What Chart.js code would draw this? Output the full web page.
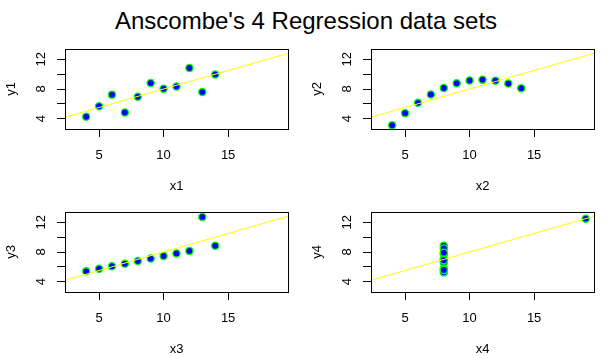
<!DOCTYPE html>
<html>
<head>
<meta charset="utf-8">
<script src="https://cdn.jsdelivr.net/npm/chart.js@4.4.1/dist/chart.umd.min.js"></script>
<style>
  body { margin: 0; background: #fff; width: 612px; height: 358px; overflow: hidden; position: relative;
         font-family: "Liberation Sans", Arial, sans-serif; }
  #title { position: absolute; left: 0; top: 7px; width: 612px; text-align: center;
           font-size: 24px; line-height: 28px; color: #000; }
  canvas { position: absolute; }
</style>
</head>
<body>
<div id="title">Anscombe's 4 Regression data sets</div>
<canvas id="c1" width="306" height="170" style="left:0;top:30px"></canvas>
<canvas id="c2" width="306" height="170" style="left:306px;top:30px"></canvas>
<canvas id="c3" width="306" height="170" style="left:0;top:193px"></canvas>
<canvas id="c4" width="306" height="170" style="left:306px;top:193px"></canvas>
<script>
// Anscombe's quartet
const x1 = [10, 8, 13, 9, 11, 14, 6, 4, 12, 7, 5];
const y1 = [8.04, 6.95, 7.58, 8.81, 8.33, 9.96, 7.24, 4.26, 10.84, 4.82, 5.68];
const x2 = [10, 8, 13, 9, 11, 14, 6, 4, 12, 7, 5];
const y2 = [9.14, 8.14, 8.74, 8.77, 9.26, 8.10, 6.13, 3.10, 9.13, 7.26, 4.74];
const x3 = [10, 8, 13, 9, 11, 14, 6, 4, 12, 7, 5];
const y3 = [7.46, 6.77, 12.74, 7.11, 7.81, 8.84, 6.08, 5.39, 8.15, 6.42, 5.73];
const x4 = [8, 8, 8, 8, 8, 8, 8, 19, 8, 8, 8];
const y4 = [6.58, 5.76, 7.71, 8.84, 8.47, 7.04, 5.25, 12.50, 5.56, 7.91, 6.89];

const xLim = [3, 19];
const yLim = [3, 13];
const xTicks = [5, 10, 15];
const yTicks = [4, 6, 8, 10, 12];
const yTickLabels = [4, 8, 12];

const FONT = { family: '"Liberation Sans", Arial, sans-serif', size: 13 };

// R style 4% axis extension
function ext(lim) {
  const d = (lim[1] - lim[0]) * 0.04;
  return [lim[0] - d, lim[1] + d];
}

// least squares fit
function fit(xs, ys) {
  const n = xs.length;
  const mx = xs.reduce((a, b) => a + b, 0) / n;
  const my = ys.reduce((a, b) => a + b, 0) / n;
  let sxy = 0, sxx = 0;
  for (let i = 0; i < n; i++) {
    sxy += (xs[i] - mx) * (ys[i] - my);
    sxx += (xs[i] - mx) * (xs[i] - mx);
  }
  const b = sxy / sxx;
  return { a: my - b * mx, b: b };
}

// draws the full box round the plot region
const boxPlugin = {
  id: 'box',
  afterDatasetsDraw(chart) {
    const { ctx, chartArea: ca } = chart;
    ctx.save();
    ctx.strokeStyle = '#000';
    ctx.lineWidth = 1;
    ctx.strokeRect(Math.round(ca.left) + 0.5, Math.round(ca.top) + 0.5,
                   Math.round(ca.right - ca.left), Math.round(ca.bottom - ca.top));
    ctx.restore();
  }
};

function makePanel(id, xs, ys, xName, yName) {
  const xr = ext(xLim), yr = ext(yLim);
  const m = fit(xs, ys);
  new Chart(document.getElementById(id), {
    type: 'scatter',
    data: {
      datasets: [
        {
          type: 'line',
          data: [{ x: xr[0], y: m.a + m.b * xr[0] }, { x: xr[1], y: m.a + m.b * xr[1] }],
          borderColor: '#ffff00',
          borderWidth: 1,
          pointRadius: 0,
          fill: false,
          order: 0
        },
        {
          data: xs.map((x, i) => ({ x: x, y: ys[i] })),
          backgroundColor: '#0000ff',
          borderColor: '#00ff00',
          borderWidth: 1.3,
          pointRadius: 3.6,
          order: 1
        }
      ]
    },
    options: {
      responsive: false,
      animation: false,
      events: [],
      layout: { padding: { top: 19, right: 18, bottom: 6, left: 0 } },
      plugins: { legend: { display: false }, tooltip: { enabled: false } },
      scales: {
        x: {
          type: 'linear',
          min: xr[0], max: xr[1],
          afterBuildTicks: s => { s.ticks = xTicks.map(v => ({ value: v })); },
          afterFit: s => { s.height = 65; },
          grid: { drawOnChartArea: false, drawTicks: true, tickLength: 8, color: '#000', lineWidth: 1 },
          border: { display: false },
          ticks: { autoSkip: false, maxRotation: 0, color: '#000', font: FONT, padding: 11 },
          title: { display: true, text: xName, color: '#000', font: FONT, padding: 0 }
        },
        y: {
          type: 'linear',
          min: yr[0], max: yr[1],
          afterBuildTicks: s => { s.ticks = yTicks.map(v => ({ value: v })); },
          afterFit: s => { s.width = 65; },
          grid: { drawOnChartArea: false, drawTicks: true, tickLength: 8, color: '#000', lineWidth: 1 },
          border: { display: false },
          ticks: {
            autoSkip: false, minRotation: 90, maxRotation: 90, crossAlign: 'center',
            color: '#000', font: FONT, padding: 8,
            callback: v => yTickLabels.includes(v) ? String(v) : ''
          },
          title: { display: true, text: yName, color: '#000', font: FONT, padding: { top: 4, bottom: 0 } }
        }
      }
    },
    plugins: [boxPlugin]
  });
}

makePanel('c1', x1, y1, 'x1', 'y1');
makePanel('c2', x2, y2, 'x2', 'y2');
makePanel('c3', x3, y3, 'x3', 'y3');
makePanel('c4', x4, y4, 'x4', 'y4');
</script>
</body>
</html>
